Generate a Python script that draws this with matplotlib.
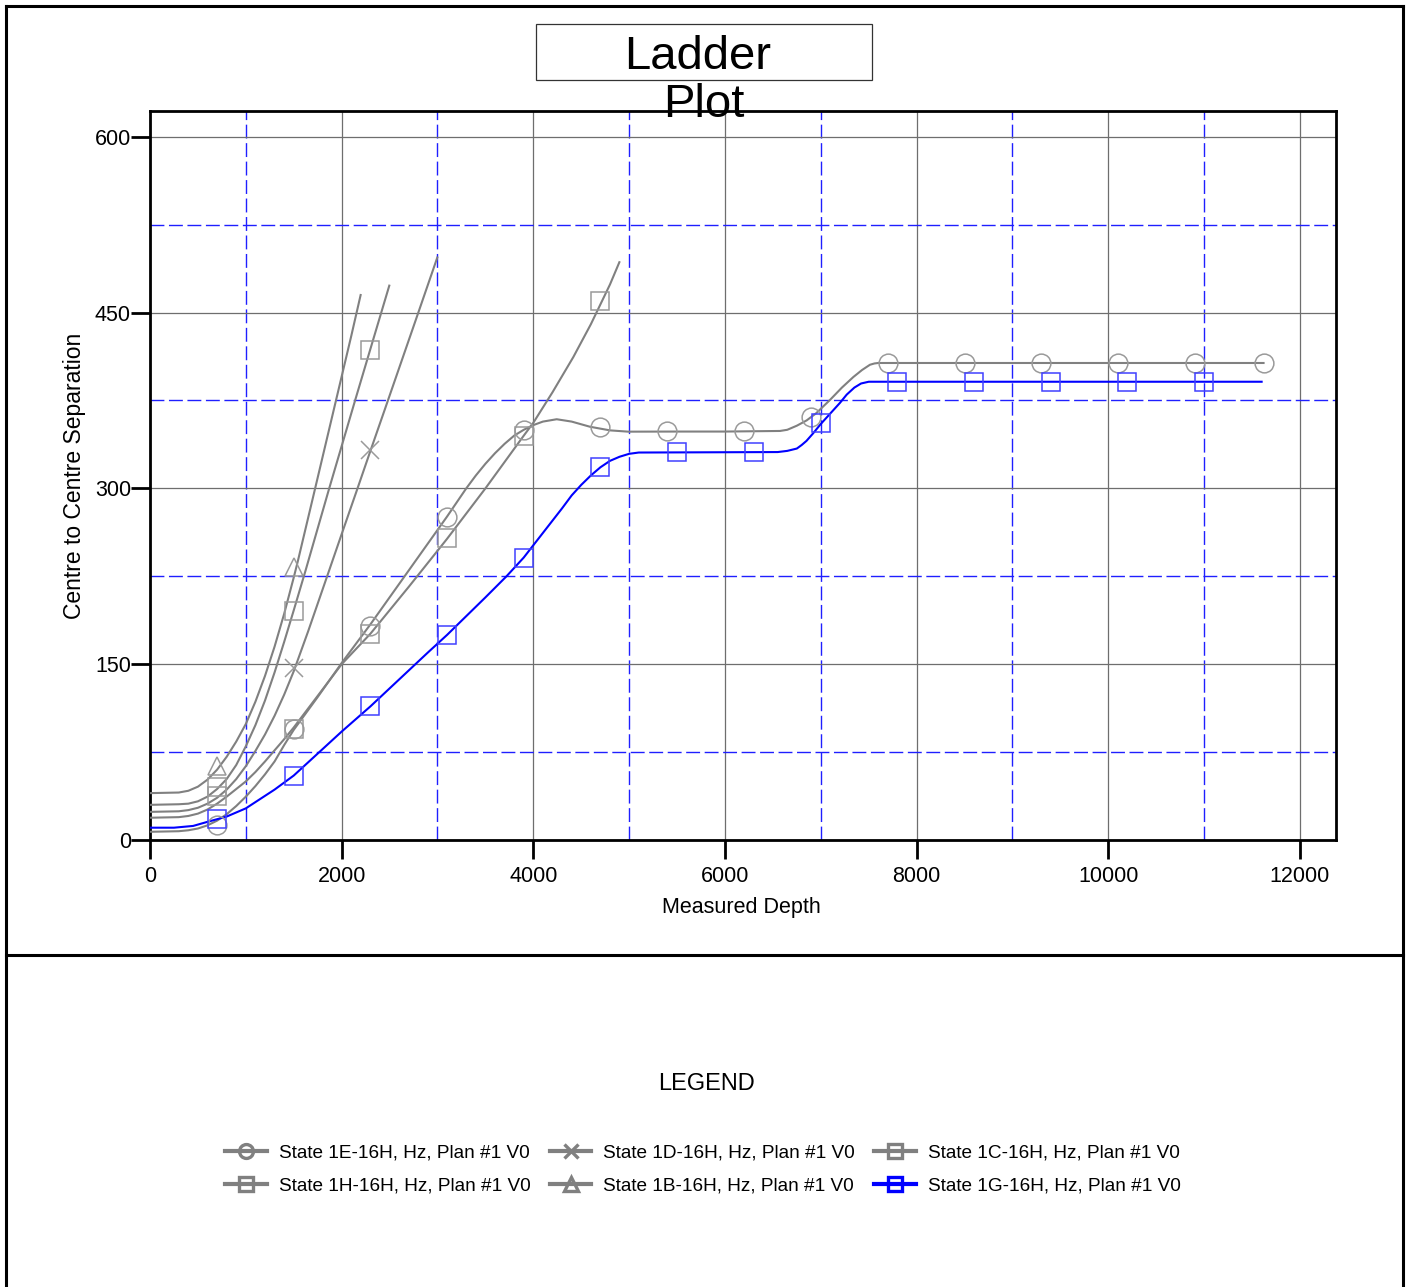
import matplotlib
matplotlib.use("Agg")
import matplotlib.pyplot as plt
from matplotlib.lines import Line2D
from matplotlib.patches import Rectangle

plt.rcParams['font.family'] = ['Liberation Sans', 'DejaVu Sans']

# ---------------- data ----------------
# State 1E (circle)
e_line_x = [0, 300, 400, 500, 600, 700, 800, 900, 1000, 1100, 1200, 1300, 1400, 1500, 1750, 2000, 2300, 2700,
            3100, 3200, 3300, 3400, 3500, 3600, 3700, 3800, 3900, 4000, 4100, 4244, 4400, 4591, 4800, 4991,
            5500, 6000, 6574, 6650, 6750, 6852, 6950, 7096, 7220, 7339, 7430, 7513, 7560, 7600, 11620]
e_line_y = [7, 7.5, 8.3, 9.8, 12.5, 16.5, 22, 29, 37, 46, 56, 67, 81, 94, 122, 151, 184, 230,
            276, 288, 300, 311, 321, 330, 338, 345, 350, 354, 357, 359, 357, 352.6, 349.5, 348.4,
            348.5, 348.5, 349, 350, 353.5, 358, 364, 375.5, 386, 395, 401, 405.5, 406.6, 407, 407]
e_mark_x = [700, 1500, 2300, 3100, 3900, 4700, 5400, 6200, 6900, 7700, 8500, 9300, 10100, 10900, 11620]
e_mark_y = [13, 95, 183, 276, 350, 352, 349, 349, 361, 407, 407, 407, 407, 407, 407]

# State 1D (x)
d_line_x = [0, 300, 400, 500, 600, 700, 800, 900, 1000, 1100, 1200, 1300, 1400, 1500, 1650, 1861, 2000,
            2157, 2300, 2470, 2783, 2998]
d_line_y = [24, 24.5, 25.5, 27.5, 31, 36, 43, 52, 63, 76, 90, 106, 124, 144, 178, 228, 261,
            298, 332, 372, 446, 497]
d_mark_x = [1500, 2300]
d_mark_y = [147, 333]

# State 1C (square)
c_line_x = [0, 300, 400, 500, 600, 700, 800, 900, 1000, 1100, 1200, 1300, 1400, 1500, 1750, 2000, 2300,
            2700, 3100, 3500, 3900, 4000, 4200, 4417, 4600, 4700, 4800, 4898]
c_line_y = [19, 19.5, 20.5, 22.5, 26, 31, 37, 43.5, 50, 58, 67, 76.5, 86, 96, 123, 150, 176,
            216, 257, 300, 345, 356, 382, 412, 440, 457, 474, 493]
c_mark_x = [700, 1500, 2300, 3100, 3900, 4700]
c_mark_y = [37.5, 95, 176, 258, 345, 460]

# State 1H (square)
h_line_x = [0, 300, 400, 500, 600, 700, 800, 900, 1000, 1100, 1200, 1300, 1400, 1500, 1620, 1870, 2140,
            2300, 2497]
h_line_y = [30, 30.5, 31, 33, 37, 43.5, 52, 64, 80, 98, 119, 143, 169, 196, 229, 300, 375,
            419, 473]
h_mark_x = [700, 1500, 2300]
h_mark_y = [45, 195, 418]

# State 1B (triangle)
b_line_x = [0, 300, 400, 500, 600, 700, 800, 900, 1000, 1100, 1200, 1300, 1400, 1500, 1540, 1700, 1900,
            2100, 2198]
b_line_y = [40, 40.5, 42, 45.5, 51.5, 60, 71, 84, 99, 118, 140, 165, 193, 224, 237, 292, 361,
            430, 465]
b_mark_x = [700, 1500]
b_mark_y = [63, 233]

# State 1G (blue square)
g_line_x = [0, 250, 450, 600, 800, 1000, 1150, 1300, 1500, 1700, 2000, 2300, 2600, 2900, 3100, 3300, 3500,
            3720, 3900, 4100, 4300, 4400, 4500, 4600, 4700, 4800, 4900, 5000, 5100, 6550, 6650, 6750,
            6800, 6850, 6920, 7000, 7100, 7200, 7270, 7350, 7420, 7500, 11600]
g_line_y = [10.5, 10.5, 12, 15.5, 20, 27, 35, 43, 55, 70, 92.5, 114, 137, 160, 175, 191, 207,
            225, 241, 262, 283, 294, 303, 311, 318, 323.5, 327, 329.5, 330.6, 331, 332, 334,
            337, 340.5, 347, 355, 364, 373, 380, 386, 389.5, 391, 391]
g_mark_x = [700, 1500, 2300, 3100, 3900, 4700, 5500, 6300, 7000, 7800, 8600, 9400, 10200, 11000]
g_mark_y = [17.5, 55, 114, 175, 241, 318, 331, 331, 356, 391, 391, 391, 391, 391]

labels = ['State 1E-16H, Hz, Plan #1 V0', 'State 1D-16H, Hz, Plan #1 V0', 'State 1C-16H, Hz, Plan #1 V0',
          'State 1H-16H, Hz, Plan #1 V0', 'State 1B-16H, Hz, Plan #1 V0', 'State 1G-16H, Hz, Plan #1 V0']

x_ticks = [0, 2000, 4000, 6000, 8000, 10000, 12000]
y_ticks = [0, 150, 300, 450, 600]
x_minor = [1000, 3000, 5000, 7000, 9000, 11000]
y_minor = [75, 225, 375, 525]

# ---------------- figure ----------------
W, H = 1408, 1287
fig = plt.figure(figsize=(W / 100, H / 100), dpi=100)

def fx(px):
    return px / W

def fy(py):
    return 1 - py / H

ax = fig.add_axes([fx(150), fy(840), (1336 - 150) / W, (840 - 111) / H])
ax.set_xlim(0, 12376)
ax.set_ylim(0, 622)

GRAY = '#808080'
GRAY_M = '#9a9a9a'
BLUE = '#0000ff'
BLUE_M = '#4040ff'

series = [
    (e_line_x, e_line_y, e_mark_x, e_mark_y, 'o', GRAY, GRAY_M),
    (d_line_x, d_line_y, d_mark_x, d_mark_y, 'x', GRAY, GRAY_M),
    (c_line_x, c_line_y, c_mark_x, c_mark_y, 's', GRAY, GRAY_M),
    (h_line_x, h_line_y, h_mark_x, h_mark_y, 's', GRAY, GRAY_M),
    (b_line_x, b_line_y, b_mark_x, b_mark_y, '^', GRAY, GRAY_M),
    (g_line_x, g_line_y, g_mark_x, g_mark_y, 's', BLUE, BLUE_M),
]

for lx, ly, mx, my, mk, lc, mc in series:
    ax.plot(lx, ly, color=lc, lw=1.5, zorder=3, solid_joinstyle='round')
    ax.plot(mx, my, ls='none', marker=mk, ms=13.5, mfc='none', mec=mc, mew=1.1, zorder=4)

ax.set_xticks(x_ticks)
ax.set_yticks(y_ticks)
ax.set_xticks(x_minor, minor=True)
ax.set_yticks(y_minor, minor=True)
ax.tick_params(which='major', length=13.7, width=2, direction='out', labelsize=15.5, color='k')
ax.tick_params(axis='x', which='major', pad=5)
ax.tick_params(axis='y', which='major', pad=0)
ax.tick_params(which='minor', length=0)
ax.grid(which='major', color='#6e6e6e', lw=0.9, ls='-')
ax.grid(which='minor', color='#1f1fff', lw=1.0, ls=(0, (10, 3.3)))
ax.set_axisbelow(True)
for sp in ax.spines.values():
    sp.set_linewidth(2)
    sp.set_color('k')

fig.text(fx(741), fy(907), 'Measured Depth', ha='center', va='center', fontsize=15.5)
fig.text(fx(75), fy(476), 'Centre to Centre Separation', ha='center', va='center', fontsize=16.5, rotation=90)

# title box
fig.add_artist(Rectangle((fx(536), fy(80)), (872 - 536) / W, (80 - 24) / H, transform=fig.transFigure,
                         fill=False, ec='#333333', lw=0.9))
fig.text(fx(698), fy(52), 'Ladder', ha='center', va='center_baseline', fontsize=34, zorder=5)
fig.text(fx(704), fy(100), 'Plot', ha='center', va='center_baseline', fontsize=34, zorder=5)

# outer frame and separator
for xs, ys in [([6, 6], [6, 1290]), ([1403, 1403], [6, 1290]), ([6, 1403], [6, 6]), ([6, 1403], [955, 955])]:
    fig.add_artist(Line2D([fx(v) for v in xs], [fy(v) for v in ys], transform=fig.transFigure,
                          color='k', lw=2.2))

# legend
fig.text(fx(707), fy(1084), 'LEGEND', ha='center', va='center', fontsize=17)
order = [0, 3, 1, 4, 2, 5]
handles = []
for i in order:
    _, _, _, _, mk, lc, mc = series[i]
    handles.append(Line2D([], [], color=lc, lw=3, marker=mk, ms=10, mfc='none', mec=lc, mew=2.4))
fig.legend(handles, [labels[i] for i in order], loc='center', bbox_to_anchor=(fx(703), fy(1169.5)),
           ncol=3, frameon=False, fontsize=13.7, handlelength=2.2, handletextpad=0.63,
           columnspacing=1.0, labelspacing=0.8)

fig.savefig('out.png', dpi=100)
